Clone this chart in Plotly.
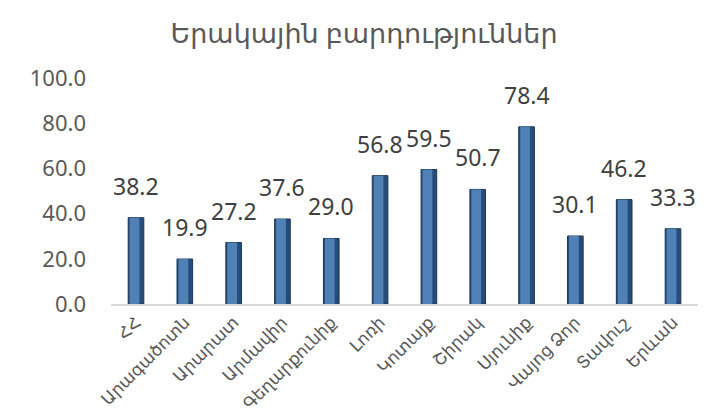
import plotly.graph_objects as go

# Մարզեր և արժեքներ
regions = ['ՀՀ', 'Արագածոտն', 'Արարատ', 'Արմավիր', 'Գեղարքունիք', 'Լոռի',
           'Կոտայք', 'Շիրակ', 'Սյունիք', 'Վայոց Ձոր', 'Տավուշ', 'Երևան']
values = [38.2, 19.9, 27.2, 37.6, 29.0, 56.8, 59.5, 50.7, 78.4, 30.1, 46.2, 33.3]
y_ticks = [0, 20, 40, 60, 80, 100]

FONT = 'Noto Sans, DejaVu Sans, sans-serif'
TEXT_GRAY = '#404040'

fig = go.Figure()

# մուգ եզրով հիմնական սյուն
fig.add_trace(go.Bar(
    x=regions,
    y=values,
    marker=dict(color='#264d7a', line=dict(color='#1a3658', width=1)),
    width=0.32,
    offset=-0.16,
    hoverinfo='x+y',
))

# ավելի բաց միջուկ՝ ծավալի էֆեկտի համար
fig.add_trace(go.Bar(
    x=regions,
    y=values,
    marker=dict(color='#4f80b6', line=dict(width=0)),
    width=0.2,
    offset=-0.13,
    hoverinfo='skip',
))

# արժեքների պիտակներ
for reg, v in zip(regions, values):
    fig.add_annotation(
        x=reg, y=v,
        text=f'{v:.1f}',
        showarrow=False,
        yanchor='bottom',
        yshift=14,
        font=dict(size=23, color=TEXT_GRAY, family=FONT),
    )

fig.update_layout(
    width=712,
    height=419,
    margin=dict(l=103, r=22, t=70, b=123),
    paper_bgcolor='white',
    plot_bgcolor='white',
    showlegend=False,
    barmode='overlay',
    font=dict(family=FONT, color=TEXT_GRAY),
    title=dict(
        text='Երակային բարդություններ',
        font=dict(size=27, color='#595959', family=FONT),
        x=0.5, xanchor='center', y=0.94, yanchor='middle',
    ),
    xaxis=dict(
        tickangle=-45,
        tickfont=dict(size=17, color='#595959'),
        showline=True,
        linecolor='#d9d9d9',
        linewidth=1.5,
        ticks='',
        showgrid=False,
    ),
    yaxis=dict(
        range=[0, 100],
        tickvals=y_ticks,
        tickformat='.1f',
        tickfont=dict(size=22, color='#595959'),
        showgrid=False,
        zeroline=False,
        showline=False,
        ticks='',
        ticklabelstandoff=24,
    ),
)

fig.write_html('out.html')
